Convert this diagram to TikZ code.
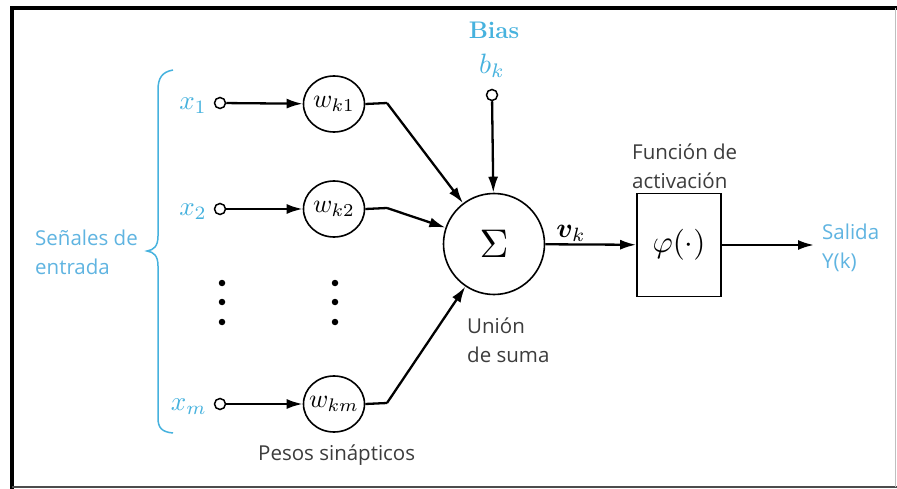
\documentclass[tikz,border=0pt]{standalone}
\usepackage[no-math]{fontspec}
\usepackage{graphicx}
\usepackage{bm}
\newfontfamily\labfont{Open Sans}
\newcommand{\mbig}[2]{\scalebox{#1}{$#2$}}
\newcommand{\wlab}[1]{\makebox[0pt]{\mbig{2.6}{#1}}}
\usetikzlibrary{arrows.meta,shapes.geometric}
\definecolor{cyanT}{RGB}{70,178,222}
\definecolor{cyanS}{RGB}{95,180,225}
\definecolor{darkT}{RGB}{60,60,60}
\tikzset{
  inport/.style={circle,draw,line width=1.5pt,minimum size=11pt,inner sep=0pt,fill=white},
  wnode/.style={ellipse,draw,line width=1.6pt,minimum width=61pt,minimum height=56pt,inner sep=0pt},
  conn/.style={line width=2.3pt,-{Latex[length=16pt,width=10pt]}},
  wire/.style={line width=2.3pt},
  lab/.style={font=\labfont\fontsize{20.5}{29}\selectfont,text=darkT,align=left,inner sep=0pt},
  mlab/.style={inner sep=0pt},
  dotm/.style={circle,fill=black,minimum size=6.5pt,inner sep=0pt}
}
\begin{document}
\begin{tikzpicture}[x=1pt,y=-1pt]
\useasboundingbox (0,0) rectangle (897,489);
% frame
\fill[white] (0,0) rectangle (897,489);
\draw[line width=4pt] (12,489) -- (12,8) -- (897,8);
\draw[line width=2pt,black!70] (12,487) -- (897,487);
\draw[line width=1pt,black!25] (895,8) -- (895,487);
% input ports
\node[inport] (i1) at (220,103) {};
\node[inport] (i2) at (220,209) {};
\node[inport] (im) at (220,404) {};
\node[mlab,text=cyanT,anchor=east] (lx1) at (207,106) {\mbig{2.7}{x_1}};
\node[mlab,text=cyanT,anchor=east] (lx2) at (207,212) {\mbig{2.7}{x_2}};
\node[mlab,text=cyanT,anchor=east] (lxm) at (207,407) {\mbig{2.7}{x_m}};
% weights
\node[wnode] (w1) at (334,104) {\wlab{w_{k1}}};
\node[wnode] (w2) at (334,209) {\wlab{w_{k2}}};
\node[wnode] (wm) at (334,404) {\wlab{w_{km}}};
% dots
\foreach \yy [count=\i] in {283,302,322}{
  \node[dotm] (da\i) at (222,\yy) {};
  \node[dotm] (db\i) at (335,\yy) {};
}
% summing junction
\node[circle,draw,line width=1.6pt,minimum size=101pt,inner sep=0pt] (sum) at (494,244) {\mbig{4.0}{\Sigma}};
% bias
\node[font=\fontsize{24}{26}\selectfont\bfseries,text=cyanT,inner sep=0pt] (bias) at (494,30) {Bias};
\node[mlab,text=cyanT] (bk) at (492,66) {\mbig{2.8}{b_k}};
\node[inport] (ib) at (492,95) {};
% activation
\node[draw,line width=1.6pt,minimum width=84pt,minimum height=103pt,inner sep=0pt] (phi) at (679,245) {\mbig{3.1}{\varphi(\cdot)}};
\node[mlab] (vk) at (571,233) {\mbig{2.75}{\bm{v}_k}};
\coordinate (out) at (814,245);
% connectors
\draw[conn] (i1) -- (w1);
\draw[conn] (i2) -- (w2);
\draw[conn] (im) -- (wm);
\coordinate (k1) at (387,103);
\coordinate (k2) at (387,208);
\coordinate (km) at (387,403);
\draw[wire] (w1.east) -- (k1);
\draw[conn] (k1) -- (sum);
\draw[wire] (w2.east) -- (k2);
\draw[conn] (k2) -- (sum);
\draw[wire] (wm.east) -- (km);
\draw[conn] (km) -- (sum);
\draw[conn] (ib) -- (sum);
\draw[conn] (sum) -- (phi);
\draw[conn] (phi) -- (out);
% labels
\node[lab,anchor=west] (fa) at (632,166) {Función de\\activación};
\node[lab,anchor=west] (us) at (467,340) {Unión\\de suma};
\node[lab,anchor=west] (ps) at (258,455) {Pesos sinápticos};
\node[lab,anchor=west,text=cyanS] (sa) at (822,248) {Salida\\Y(k)};
\node[lab,anchor=west,text=cyanS] (se) at (35,252) {Señales de\\entrada};
% brace
\draw[cyanT,line width=1.5pt] (173,70) .. controls (162,72) and (158,78) .. (158,90)
  -- (158,236) .. controls (158,246) and (154,250) .. (147,251)
  .. controls (154,252) and (158,256) .. (158,266)
  -- (158,418) .. controls (158,428) and (162,432) .. (173,433);
\end{tikzpicture}
\end{document}
